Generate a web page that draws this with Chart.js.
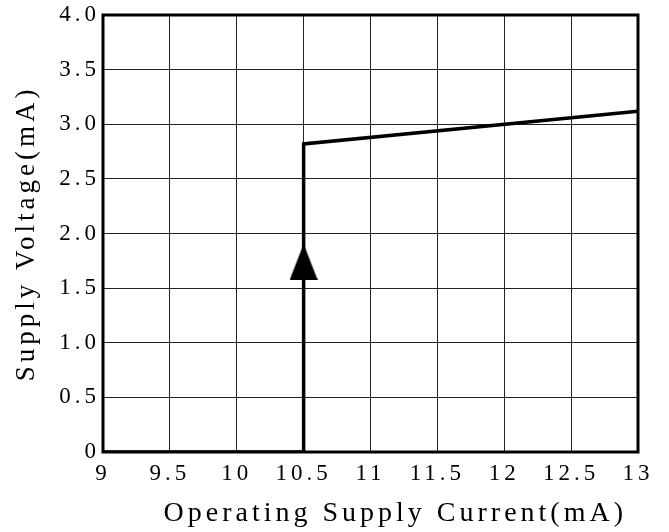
<!DOCTYPE html>
<html>
<head>
<meta charset="utf-8">
<script src="https://cdn.jsdelivr.net/npm/chart.js@4/dist/chart.umd.min.js"></script>
<style>
  html, body { margin: 0; padding: 0; background: #fff; }
  #wrap { width: 669px; height: 532px; }
</style>
</head>
<body>
<div id="wrap"><canvas id="chart"></canvas></div>
<script>
// curve
const currentValues = [9, 10.5, 10.5, 13];
const voltageValues = [0, 0, 2.82, 3.12];

// arrow marker on the rising edge
const arrowX = [10.5];
const arrowY = [1.74];

// trailing space pushes the right-aligned title a bit in from the frame
const xTitle = 'Operating Supply Current(mA) ';
const yTitle = 'Supply Voltage(mA)';

// tall triangle used as the arrow head
function makeArrow() {
    const c = document.createElement('canvas');
    c.width = 28;
    c.height = 36;
    const g = c.getContext('2d');
    g.fillStyle = '#000';
    g.beginPath();
    g.moveTo(14, 0);
    g.lineTo(28, 36);
    g.lineTo(0, 36);
    g.closePath();
    g.fill();
    return c;
}

const serif = '"Liberation Serif", "DejaVu Serif", serif';

// wide spaced lettering + full frame round the plot
const framePlugin = {
    id: 'frame',
    beforeDraw(chart) {
        chart.ctx.letterSpacing = '4px';
    },
    afterDraw(chart) {
        const a = chart.chartArea;
        const ctx = chart.ctx;
        ctx.save();
        ctx.strokeStyle = '#000';
        ctx.lineWidth = 3;
        ctx.strokeRect(a.left, a.top, a.right - a.left, a.bottom - a.top);
        ctx.restore();
    }
};

const ctx = document.getElementById('chart').getContext('2d');
new Chart(ctx, {
    type: 'scatter',
    data: {
        datasets: [{
            data: currentValues.map((x, i) => ({ x: x, y: voltageValues[i] })),
            showLine: true,
            borderColor: '#000',
            borderWidth: 3.5,
            pointRadius: 0,
            tension: 0
        }, {
            data: arrowX.map((x, i) => ({ x: x, y: arrowY[i] })),
            pointStyle: makeArrow(),
            pointRadius: 14
        }]
    },
    options: {
        responsive: true,
        maintainAspectRatio: false,
        animation: false,
        layout: {
            padding: { left: 11, top: 12, right: 31, bottom: 2 }
        },
        plugins: {
            legend: { display: false },
            tooltip: { enabled: false }
        },
        scales: {
            x: {
                type: 'linear',
                min: 9,
                max: 13,
                afterFit(scale) { scale.height = 78; },
                ticks: {
                    stepSize: 0.5,
                    color: '#000',
                    padding: 10,
                    maxRotation: 0,
                    font: { family: serif, size: 23, lineHeight: 1 },
                    callback: v => String(v)
                },
                grid: { color: '#222', lineWidth: 1, drawTicks: false },
                border: { display: false },
                title: {
                    display: true,
                    text: xTitle,
                    align: 'end',
                    color: '#000',
                    padding: { top: 0, bottom: 0 },
                    font: { family: serif, size: 28 }
                }
            },
            y: {
                type: 'linear',
                min: 0,
                max: 4,
                afterFit(scale) { scale.width = 92; },
                ticks: {
                    stepSize: 0.5,
                    color: '#000',
                    padding: 3,
                    font: { family: serif, size: 23, lineHeight: 1 },
                    callback: v => v === 0 ? '0' : v.toFixed(1)
                },
                grid: { color: '#222', lineWidth: 1, drawTicks: false },
                border: { display: false },
                title: {
                    display: true,
                    text: yTitle,
                    color: '#000',
                    padding: { top: 0, bottom: 0 },
                    font: { family: serif, size: 27 }
                }
            }
        }
    },
    plugins: [framePlugin]
});
</script>
</body>
</html>
